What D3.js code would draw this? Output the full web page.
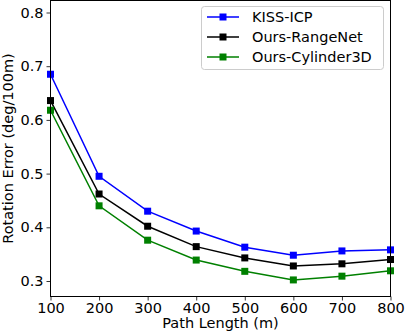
<!DOCTYPE html>
<html><head><meta charset="utf-8">
<script src="https://cdn.jsdelivr.net/npm/d3@7"></script>
<style>body{margin:0;background:#fff}svg{display:block}text{font-family:"DejaVu Sans",sans-serif}</style>
</head><body>
<svg id="c" width="405" height="332"></svg>
<script>
const pathLengths = [100,200,300,400,500,600,700,800];
const kissICP = [0.685,0.495,0.430,0.393,0.363,0.348,0.356,0.358];
const oursRangeNet = [0.636,0.462,0.402,0.364,0.343,0.328,0.332,0.340];
const oursCylinder3D = [0.618,0.440,0.376,0.339,0.318,0.302,0.309,0.319];
const seriesNames = ["KISS-ICP","Ours-RangeNet","Ours-Cylinder3D"];
const seriesColors = ["#0000ff","#000000","#008000"];
const yTicks = [0.3,0.4,0.5,0.6,0.7,0.8];
const xTicks = [100,200,300,400,500,600,700,800];

const series = [kissICP, oursRangeNet, oursCylinder3D];
const svg = d3.select("#c");
const L=50.5, R=390.5, T=0.5, B=296.5;
const x = d3.scaleLinear().domain([100,800]).range([L,R]);
const y = d3.scaleLinear().domain([0.3,0.8]).range([281,12.5]);
y.domain([y.invert(B), y.invert(T)]).range([B,T]);

const fs = 14.5;
const xa = svg.append("g").attr("transform",`translate(0,${B})`)
  .call(d3.axisBottom(x).tickValues(xTicks).tickSize(4).tickPadding(2).tickFormat(d3.format("d")));
const ya = svg.append("g").attr("transform",`translate(${L},0)`)
  .call(d3.axisLeft(y).tickValues(yTicks).tickSize(4).tickPadding(3).tickFormat(d3.format(".1f")));
[xa,ya].forEach(a=>{a.select(".domain").remove();a.selectAll("text").attr("font-size",fs).attr("fill","#000").attr("font-family","DejaVu Sans");a.selectAll("line").attr("stroke","#000").attr("stroke-width",0.8);});

series.forEach((s,i)=>{
  const line = d3.line().x((d,j)=>x(pathLengths[j])).y(d=>y(d));
  svg.append("path").datum(s).attr("d",line).attr("fill","none").attr("stroke",seriesColors[i]).attr("stroke-width",1.5);
  svg.append("g").selectAll("rect").data(s).join("rect")
    .attr("x",(d,j)=>x(pathLengths[j])-3.5).attr("y",d=>y(d)-3.5)
    .attr("width",7).attr("height",7).attr("fill",seriesColors[i]);
});

svg.append("rect").attr("x",L).attr("y",T).attr("width",R-L).attr("height",B-T)
  .attr("fill","none").attr("stroke","#000").attr("stroke-width",1);

// legend
const lg = svg.append("g");
lg.append("rect").attr("x",201.5).attr("y",6.5).attr("width",182).attr("height",63).attr("rx",3)
  .attr("fill","#fff").attr("fill-opacity",0.8).attr("stroke","#cccccc").attr("stroke-width",1);
seriesNames.forEach((n,i)=>{
  const cy = 17 + i*20;
  lg.append("line").attr("x1",207).attr("x2",239).attr("y1",cy).attr("y2",cy).attr("stroke",seriesColors[i]).attr("stroke-width",1.5);
  lg.append("rect").attr("x",223-3.5).attr("y",cy-3.5).attr("width",7).attr("height",7).attr("fill",seriesColors[i]);
  lg.append("text").attr("x",252).attr("y",cy).attr("dy","0.36em").attr("font-size",fs).text(n);
});

svg.append("text").attr("x",(L+R)/2).attr("y",328).attr("text-anchor","middle").attr("font-size",fs).text("Path Length (m)");
svg.append("text").attr("transform",`translate(13,${(T+B)/2}) rotate(-90)`).attr("text-anchor","middle").attr("font-size",fs).text("Rotation Error (deg/100m)");
</script>
</body></html>
